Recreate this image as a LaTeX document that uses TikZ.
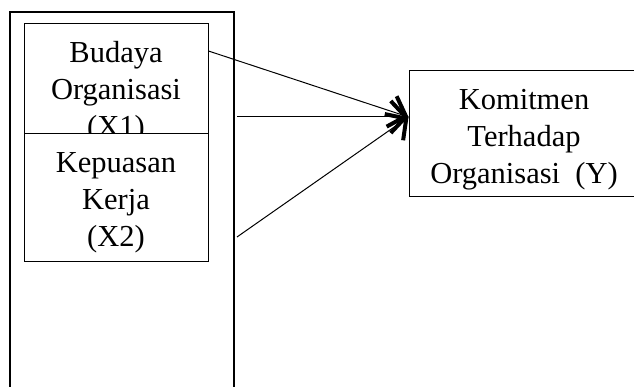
\documentclass[tikz,border=0pt]{standalone}
\usepackage{fontspec}
\setmainfont{Liberation Serif}
\usetikzlibrary{arrows.meta}
\begin{document}
\begin{tikzpicture}[x=1pt,y=-1pt,
  box/.style={draw,line width=1pt,fill=white,rectangle,inner sep=0pt},
  lbl/.style={anchor=base,inner sep=0pt},
  conn/.style={line width=1pt,-{Straight Barb[length=15pt,width=32pt,line width=4pt]}}]
\useasboundingbox (0,0) rectangle (634,387);
% outer frame (open at the bottom)
\draw[line width=2.5pt] (10,400) -- (10,12) -- (234,12) -- (234,400);
% left boxes
\node[box,minimum width=184pt,minimum height=110pt] (b1) at (116,79) {};
\node[lbl] (t1) at (116,63) {\parbox[t]{200pt}{\centering\fontsize{30.5}{37}\selectfont Budaya\\Organisasi\\(X1)}};
\node[box,minimum width=184pt,minimum height=128pt] (b2) at (116,198) {};
\node[lbl] (t2) at (116,173) {\parbox[t]{200pt}{\centering\fontsize{30.5}{37}\selectfont Kepuasan\\Kerja\\(X2)}};
% right box (right edge beyond the page)
\node[box,minimum width=251pt,minimum height=126pt] (yb) at (534.5,134) {};
\node[lbl] (t3) at (524,110) {\parbox[t]{230pt}{\centering\fontsize{30.5}{37}\selectfont Komitmen\\Terhadap\\Organisasi~~(Y)}};
% connectors
\coordinate (s2) at (237,117);
\coordinate (s3) at (237,237);
\coordinate (tip) at ([yshift=17pt]yb.west);
\draw[conn] ([yshift=28pt]b1.east) -- (tip);
\draw[conn] (s2) -- (tip);
\draw[conn] (s3) -- (tip);
\end{tikzpicture}
\end{document}
